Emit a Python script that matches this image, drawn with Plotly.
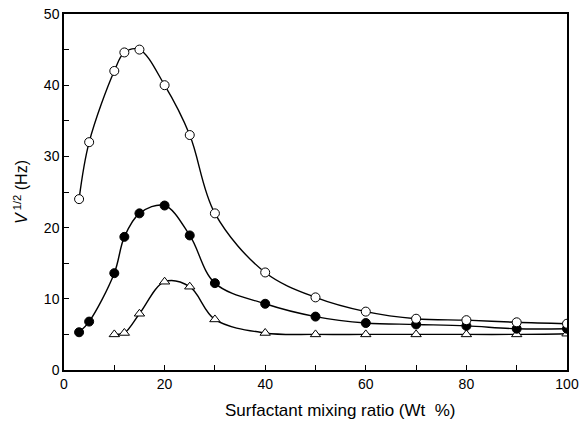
import plotly.graph_objects as go

x_open = [3, 5, 10, 12, 15, 20, 25, 30, 40, 50, 60, 70, 80, 90, 100]
y_open = [24, 32, 42, 44.6, 45, 40, 33, 22, 13.7, 10.2, 8.2, 7.2, 7.0, 6.7, 6.5]
x_fill = [3, 5, 10, 12, 15, 20, 25, 30, 40, 50, 60, 70, 80, 90, 100]
y_fill = [5.3, 6.8, 13.6, 18.7, 22, 23.1, 18.9, 12.2, 9.3, 7.5, 6.6, 6.4, 6.2, 5.8, 5.8]
x_tri = [10, 12, 15, 20, 25, 30, 40, 50, 60, 70, 80, 90, 100]
y_tri = [5.0, 5.2, 7.9, 12.4, 11.7, 7.1, 5.2, 5.0, 5.0, 5.0, 5.0, 5.0, 5.1]

FONT = "Liberation Sans, Arial, sans-serif"

fig = go.Figure()
common_line = dict(color="black", width=1.4, shape="spline", smoothing=1.0)
fig.add_trace(go.Scatter(x=x_tri, y=y_tri, mode="lines+markers", line=common_line,
                         marker=dict(symbol="triangle-up", size=9, color="white",
                                     line=dict(color="black", width=1))))
fig.add_trace(go.Scatter(x=x_fill, y=y_fill, mode="lines+markers", line=common_line,
                         marker=dict(symbol="circle", size=9, color="black",
                                     line=dict(color="black", width=1))))
fig.add_trace(go.Scatter(x=x_open, y=y_open, mode="lines+markers", line=common_line,
                         marker=dict(symbol="circle", size=9, color="white",
                                     line=dict(color="black", width=1))))

fig.update_layout(
    width=579, height=426,
    margin=dict(l=64, r=12, t=14, b=56, autoexpand=False),
    paper_bgcolor="white", plot_bgcolor="white",
    showlegend=False,
    font=dict(family=FONT, size=14, color="black"),
)
fig.add_annotation(text="Surfactant mixing ratio (Wt  %)", xref="paper", yref="paper",
                   x=0.549, y=0, yshift=-40, xanchor="center", yanchor="middle",
                   showarrow=False, font=dict(family=FONT, size=17, color="black"))
fig.update_xaxes(range=[0, 100], tickvals=[0, 20, 40, 60, 80, 100], automargin=False,
                 ticklabeloverflow="allow",
                 showgrid=False, zeroline=False, showline=True, linecolor="black",
                 linewidth=1.5, mirror=True, ticks="inside", ticklen=5, tickcolor="black",
                 minor=dict(tickvals=[10, 30, 50, 70, 90], ticks="inside", ticklen=5, tickcolor="black"))
fig.update_yaxes(range=[0, 50], tickvals=[0, 10, 20, 30, 40, 50], automargin=False,
                 ticklabeloverflow="allow",
                 showgrid=False, zeroline=False, showline=True, linecolor="black",
                 linewidth=1.5, mirror=True, ticks="inside", ticklen=5, tickcolor="black",
                 minor=dict(tickvals=[5, 15, 25, 35, 45], ticks="inside", ticklen=5, tickcolor="black"),
                 title=dict(text="<i>V</i><sup> 1/2</sup> (Hz)", standoff=12,
                            font=dict(family=FONT, size=16, color="black")))

fig.write_html("out.html", config={"displayModeBar": False},
               post_script="document.body.style.margin='0';")
